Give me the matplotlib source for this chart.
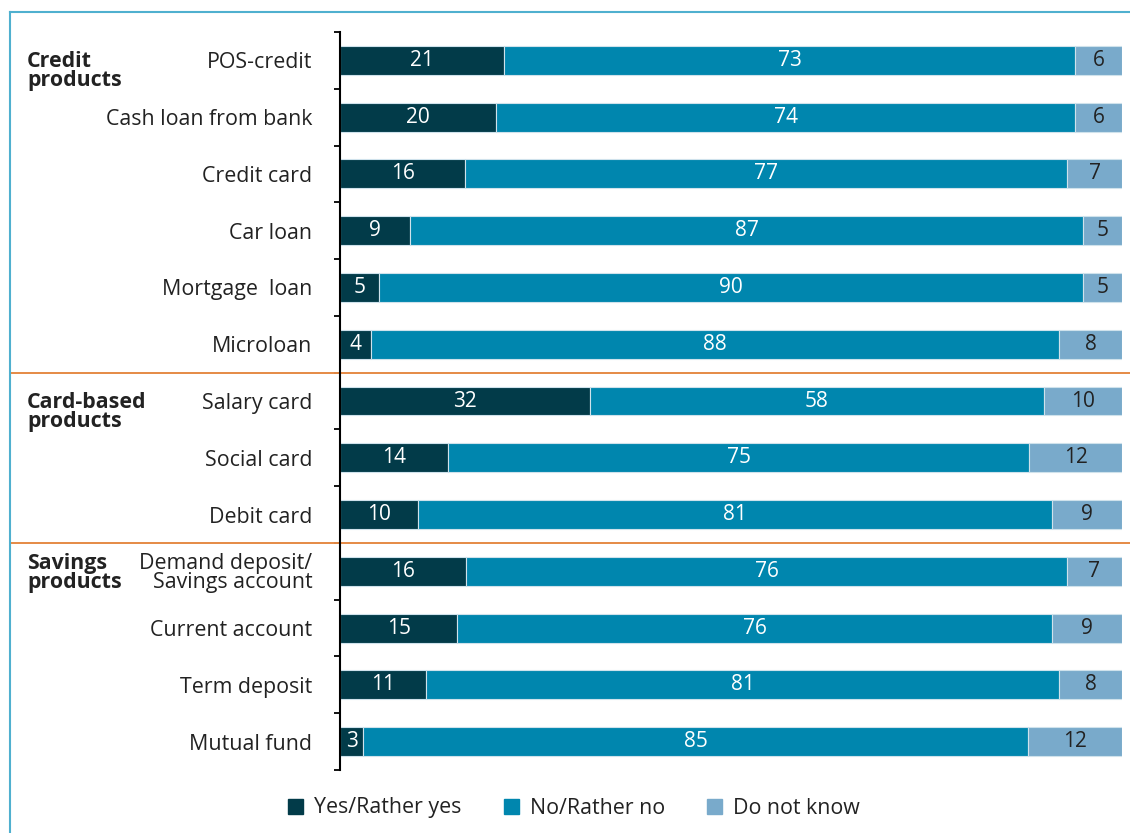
import numpy as np
import matplotlib.pyplot as plt
import matplotlib.transforms as mtransforms
from matplotlib.lines import Line2D
from matplotlib.patches import Patch

plt.rcParams['font.family'] = ['Open Sans', 'DejaVu Sans']

# survey answers, percent of respondents
products = ['POS-credit', 'Cash loan from bank', 'Credit card', 'Car loan',
            'Mortgage  loan', 'Microloan', 'Salary card', 'Social card',
            'Debit card', 'Demand deposit/\nSavings account', 'Current account',
            'Term deposit', 'Mutual fund']
yes = [21, 20, 16, 9, 5, 4, 32, 14, 10, 16, 15, 11, 3]
no = [73, 74, 77, 87, 90, 88, 58, 75, 81, 76, 76, 81, 85]
dont_know = [6, 6, 7, 5, 5, 8, 10, 12, 9, 7, 9, 8, 12]
series_names = ['Yes/Rather yes', 'No/Rather no', 'Do not know']

groups = ['Credit\nproducts', 'Card-based\nproducts', 'Savings\nproducts']
group_rows = [0, 6, 9]

colors = ['#023b49', '#0086ae', '#79aacb']
text_colors = ['white', 'white', '#222222']
fs = 15.4

W, H = 1130, 833
fig = plt.figure(figsize=(W / 100, H / 100), dpi=100)
ax = fig.add_axes([340 / W, 1 - 770 / H, 782 / W, 738 / H])

data = np.array([yes, no, dont_know], dtype=float)
shares = data / data.sum(axis=0) * 100   # each row drawn as a full bar
y = np.arange(len(products))

left = np.zeros(len(products))
for k in range(3):
    ax.barh(y, shares[k], left=left, height=0.51, color=colors[k],
            edgecolor='#cfe2ec', linewidth=0.8)
    for i in range(len(products)):
        ax.text(left[i] + shares[k][i] / 2, y[i], f'{int(data[k][i])}',
                ha='center', va='center', fontsize=15, color=text_colors[k])
    left += shares[k]

ax.set_xlim(0, 100)
ax.set_ylim(len(products) - 0.5, -0.5)
ax.set_xticks([])
ax.set_yticks(y)
ax.set_yticklabels(products, fontsize=fs, color='#222222',
                   multialignment='right', linespacing=0.9)
ax.set_yticks(np.arange(-0.5, len(products)), minor=True)
ax.tick_params(axis='y', which='major', length=0, pad=20)
ax.tick_params(axis='y', which='minor', length=4.5, width=1.3, color='black')
for s in ['top', 'right', 'bottom']:
    ax.spines[s].set_visible(False)
ax.spines['left'].set_linewidth(1.5)

# group names and orange separators across the panel
trans = mtransforms.blended_transform_factory(fig.transFigure, ax.transData)
offsets = [0.19, 0.19, 0.03]
for name, row, off in zip(groups, group_rows, offsets):
    ax.text(27 / W, row + off, name, transform=trans, ha='left', va='center',
            fontsize=fs, fontweight='bold', color='#222222', linespacing=0.85)
for row in group_rows[1:]:
    ax.add_line(Line2D([10 / W, 1.0], [row - 0.5, row - 0.5], transform=trans,
                       color='#e58a45', linewidth=1.4, clip_on=False))

# frame around the figure
fig.add_artist(Line2D([10 / W, 10 / W], [0, 1 - 12 / H], transform=fig.transFigure,
                      color='#4fb0cf', linewidth=1.5))
fig.add_artist(Line2D([10 / W, 1], [1 - 12 / H, 1 - 12 / H], transform=fig.transFigure,
                      color='#4fb0cf', linewidth=1.5))

handles = [Patch(color=c) for c in colors]
fig.legend(handles, series_names, loc='center', bbox_to_anchor=(574 / W, 1 - 808 / H),
           ncol=3, frameon=False, fontsize=fs, handlelength=0.7, handleheight=0.7,
           handletextpad=0.5, columnspacing=2.0, labelcolor='#222222')

fig.savefig('out.png', dpi=100)
